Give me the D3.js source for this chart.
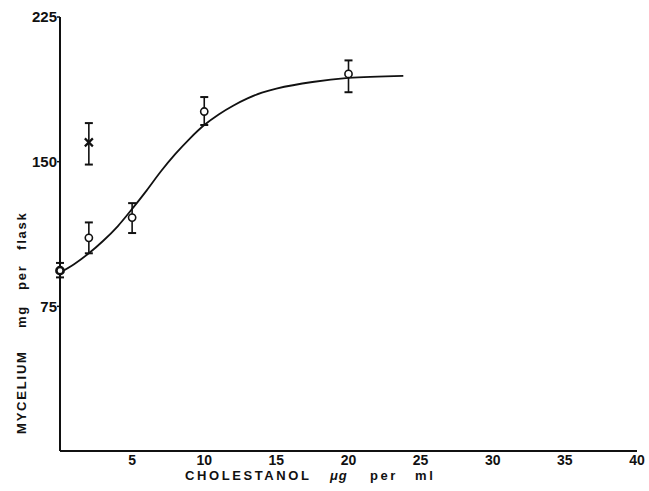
<!DOCTYPE html>
<html>
<head>
<meta charset="utf-8">
<script src="https://cdn.jsdelivr.net/npm/d3@7"></script>
<style>
  body { margin: 0; background: #fff; }
  text { font-family: "Liberation Sans", Arial, sans-serif; fill: #111; }
</style>
</head>
<body>
<div id="chart"></div>
<script>
// values
var xTicks = [5, 10, 15, 20, 25, 30, 35, 40];
var yTicks = [75, 150, 225];

// open circles (cholestanol series)
var circleX = [0, 2, 5, 10, 20];
var circleY = [93.5, 110.5, 121, 176, 195.5];
var circleLo = [90, 102.5, 113, 169, 186];
var circleHi = [97.5, 118.5, 128.5, 183.5, 202.5];

// single cross point
var crossX = [2];
var crossY = [160];
var crossLo = [148.5];
var crossHi = [170];

// fitted curve
var curveX = [0, 1, 2, 3, 4, 5, 6, 7, 8, 9, 10, 11, 12, 13, 14, 15, 17.5, 20, 23.8];
var curveY = [92.5, 97, 102.5, 109, 116.5, 125.5, 135, 145, 154, 162, 169, 174.5, 179, 182.8, 185.8, 187.9, 191.3, 193.4, 194.5];

var WIDTH = 649, HEIGHT = 491;
var margin = {top: 17, right: 12, bottom: 40, left: 60};

var svg = d3.select('#chart').append('svg')
            .attr('width', WIDTH)
            .attr('height', HEIGHT);

var x = d3.scaleLinear().domain([0, 40]).range([margin.left, 637]);
var y = d3.scaleLinear().domain([0, 225]).range([451, margin.top]);

// axes
svg.append('line')
   .attr('x1', x(0)).attr('x2', x(0))
   .attr('y1', y(225)).attr('y2', y(0))
   .attr('stroke', '#111').attr('stroke-width', 2);
svg.append('line')
   .attr('x1', x(0)).attr('x2', x(40))
   .attr('y1', y(0)).attr('y2', y(0))
   .attr('stroke', '#111').attr('stroke-width', 2);

svg.selectAll('.ytick')
   .data(yTicks).enter()
   .append('line')
   .attr('x1', x(0) - 3).attr('x2', x(0))
   .attr('y1', d => y(d)).attr('y2', d => y(d))
   .attr('stroke', '#111').attr('stroke-width', 1.5);

svg.selectAll('.ylabel')
   .data(yTicks).enter()
   .append('text')
   .attr('x', x(0) - 3)
   .attr('y', d => y(d))
   .attr('dy', '0.35em')
   .attr('text-anchor', 'end')
   .style('font-size', '15px')
   .style('font-weight', 'bold')
   .text(d => d);

svg.selectAll('.xlabel')
   .data(xTicks).enter()
   .append('text')
   .attr('x', d => x(d))
   .attr('y', 465)
   .attr('text-anchor', 'middle')
   .style('font-size', '14px')
   .style('font-weight', 'bold')
   .text(d => d);

// axis titles
var xt = svg.append('text')
            .attr('y', 480)
            .style('font-size', '13px')
            .style('font-weight', 'bold')
            .style('letter-spacing', '2.6px');
xt.append('tspan').attr('x', 185).text('CHOLESTANOL');
xt.append('tspan').attr('x', 330).style('font-style', 'italic').style('letter-spacing', '1px').text('\u03bcg');
xt.append('tspan').attr('x', 370).text('per');
xt.append('tspan').attr('x', 415).text('ml');

var yt = svg.append('text')
            .attr('transform', 'translate(26, 0) rotate(-90)')
            .style('font-size', '13px')
            .style('font-weight', 'bold')
            .style('letter-spacing', '1.8px');
yt.append('tspan').attr('x', -434).text('MYCELIUM');
yt.append('tspan').attr('x', -328).text('mg');
yt.append('tspan').attr('x', -290).text('per');
yt.append('tspan').attr('x', -250).text('flask');

// fitted curve
var curve = curveX.map((d, i) => ({x: d, y: curveY[i]}));
var line = d3.line()
             .x(d => x(d.x))
             .y(d => y(d.y))
             .curve(d3.curveCatmullRom);
svg.append('path')
   .datum(curve)
   .attr('fill', 'none')
   .attr('stroke', '#111')
   .attr('stroke-width', 1.8)
   .attr('d', line);

// error bars
function errorBars(xs, lo, hi) {
  var g = svg.append('g').attr('stroke', '#111');
  xs.forEach((d, i) => {
    g.append('line')
     .attr('x1', x(d)).attr('x2', x(d))
     .attr('y1', y(lo[i])).attr('y2', y(hi[i]))
     .attr('stroke-width', 1.6);
    [lo[i], hi[i]].forEach(v => {
      g.append('line')
       .attr('x1', x(d) - 4).attr('x2', x(d) + 4)
       .attr('y1', y(v)).attr('y2', y(v))
       .attr('stroke-width', 2);
    });
  });
}
errorBars(circleX, circleLo, circleHi);
errorBars(crossX, crossLo, crossHi);

// open circles
svg.selectAll('.pt')
   .data(circleX).enter()
   .append('circle')
   .attr('cx', d => x(d))
   .attr('cy', (d, i) => y(circleY[i]))
   .attr('r', 3.6)
   .attr('fill', '#fff')
   .attr('stroke', '#111')
   .attr('stroke-width', (d, i) => i == 0 ? 2.6 : 1.6);

// cross marker
crossX.forEach((d, i) => {
  var cx = x(d), cy = y(crossY[i]), s = 4;
  svg.append('path')
     .attr('d', `M${cx - s},${cy - s}L${cx + s},${cy + s}M${cx - s},${cy + s}L${cx + s},${cy - s}`)
     .attr('stroke', '#111')
     .attr('stroke-width', 2.2);
});
</script>
</body>
</html>
